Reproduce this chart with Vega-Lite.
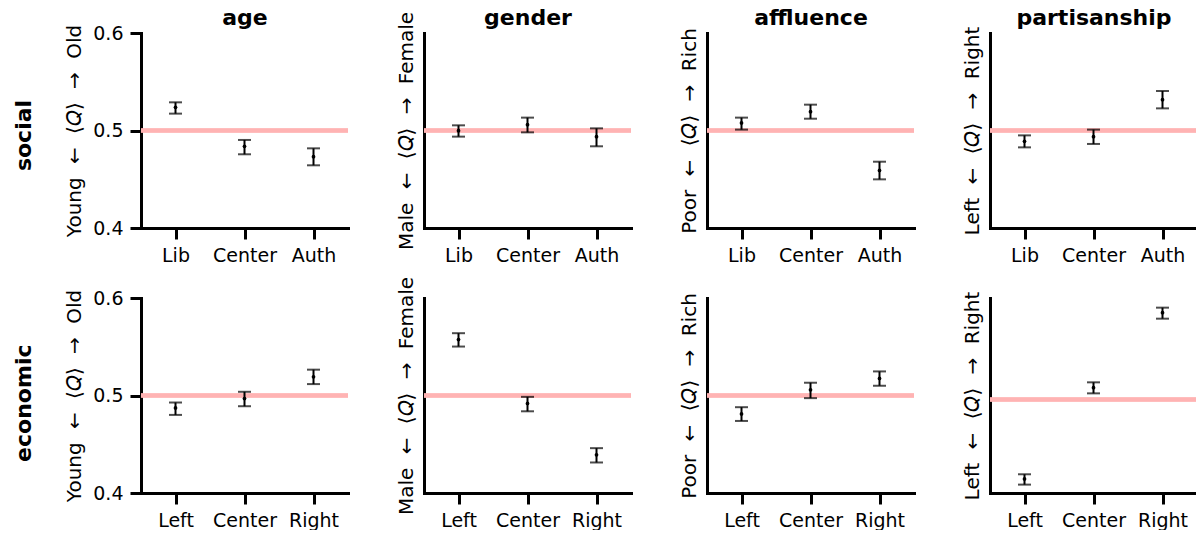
{
  "$schema": "https://vega.github.io/schema/vega-lite/v6.json",
  "padding": {"left": 12, "top": 6, "right": 0, "bottom": 0},
  "background": "white",
  "spacing": 11,
  "config": {
    "font": "DejaVu Sans",
    "view": {"stroke": null},
    "axis": {
      "domainColor": "black", "domainWidth": 3, "domainCap": "square",
      "tickColor": "black", "tickWidth": 3, "tickSize": 11,
      "labelFontSize": 19, "labelColor": "black", "labelPadding": 7, "labelFont": "DejaVu Sans",
      "titleFontSize": 20, "titleFontWeight": "normal", "titleColor": "black", "titleFont": "DejaVu Sans",
      "grid": false
    },
    "title": {"fontSize": 22, "fontWeight": "bold", "color": "black", "offset": 8, "font": "DejaVu Sans"}
  },
  "data": {"values": [
    {"axis": "social", "attr": "age", "grp": "Lib", "mean": 0.5238, "lo": 0.5173, "hi": 0.5289},
    {"axis": "social", "attr": "age", "grp": "Center", "mean": 0.4838, "lo": 0.4756, "hi": 0.4903},
    {"axis": "social", "attr": "age", "grp": "Auth", "mean": 0.4732, "lo": 0.4643, "hi": 0.4817},
    {"axis": "social", "attr": "gender", "grp": "Lib", "mean": 0.4998, "lo": 0.4937, "hi": 0.5053},
    {"axis": "social", "attr": "gender", "grp": "Center", "mean": 0.506, "lo": 0.4981, "hi": 0.5132},
    {"axis": "social", "attr": "gender", "grp": "Auth", "mean": 0.4937, "lo": 0.4838, "hi": 0.5022},
    {"axis": "social", "attr": "affluence", "grp": "Lib", "mean": 0.5077, "lo": 0.5009, "hi": 0.5132},
    {"axis": "social", "attr": "affluence", "grp": "Center", "mean": 0.5193, "lo": 0.5121, "hi": 0.5265},
    {"axis": "social", "attr": "affluence", "grp": "Auth", "mean": 0.4591, "lo": 0.4499, "hi": 0.468},
    {"axis": "social", "attr": "partisanship", "grp": "Lib", "mean": 0.4889, "lo": 0.4827, "hi": 0.495},
    {"axis": "social", "attr": "partisanship", "grp": "Center", "mean": 0.4937, "lo": 0.4862, "hi": 0.5009},
    {"axis": "social", "attr": "partisanship", "grp": "Auth", "mean": 0.5316, "lo": 0.5227, "hi": 0.5405},
    {"axis": "economic", "attr": "age", "grp": "Left", "mean": 0.4873, "lo": 0.4801, "hi": 0.4928},
    {"axis": "economic", "attr": "age", "grp": "Center", "mean": 0.4969, "lo": 0.489, "hi": 0.5038},
    {"axis": "economic", "attr": "age", "grp": "Right", "mean": 0.5192, "lo": 0.5117, "hi": 0.5265},
    {"axis": "economic", "attr": "gender", "grp": "Left", "mean": 0.5574, "lo": 0.5502, "hi": 0.5639},
    {"axis": "economic", "attr": "gender", "grp": "Center", "mean": 0.4918, "lo": 0.4838, "hi": 0.4986},
    {"axis": "economic", "attr": "gender", "grp": "Right", "mean": 0.4392, "lo": 0.4313, "hi": 0.446},
    {"axis": "economic", "attr": "affluence", "grp": "Left", "mean": 0.4811, "lo": 0.4739, "hi": 0.488},
    {"axis": "economic", "attr": "affluence", "grp": "Center", "mean": 0.5058, "lo": 0.4973, "hi": 0.5131},
    {"axis": "economic", "attr": "affluence", "grp": "Right", "mean": 0.5175, "lo": 0.51, "hi": 0.5247},
    {"axis": "economic", "attr": "partisanship", "grp": "Left", "mean": 0.4184, "lo": 0.4126, "hi": 0.4232},
    {"axis": "economic", "attr": "partisanship", "grp": "Center", "mean": 0.512, "lo": 0.5062, "hi": 0.5175},
    {"axis": "economic", "attr": "partisanship", "grp": "Right", "mean": 0.589, "lo": 0.5828, "hi": 0.5941}
  ]},
  "vconcat": [
    {
      "title": {"text": "social", "orient": "left", "anchor": "middle", "offset": 29},
      "bounds": "flush",
      "spacing": 76,
      "hconcat": [
        {
          "width": 207, "height": 195,
          "transform": [{"filter": "datum.axis === 'social' && datum.attr === 'age'"}],
          "resolve": {"axis": {"x": "independent"}},
          "layer": [
            {"mark": {"type": "rule", "color": "#ffb3b3", "strokeWidth": 4}, "encoding": {"y": {"datum": 0.5, "type": "quantitative", "scale": {"domain": [0.4, 0.6], "nice": false, "zero": false}, "axis": {"title": "Young\u2002\u2006←\u2002\u2006⟨𝑄⟩\u2002\u2006→\u2002\u2006Old", "values": [0.4, 0.5, 0.6], "format": ".1f", "titlePadding": 8}}}},
            {"mark": {"type": "rule", "color": "black", "strokeWidth": 2}, "encoding": {"x": {"field": "grp", "type": "nominal", "sort": ["Lib", "Center", "Auth"], "scale": {"type": "point", "padding": 0.5}, "axis": {"title": null, "labelAngle": 0}}, "y": {"field": "lo", "type": "quantitative", "scale": {"domain": [0.4, 0.6], "nice": false, "zero": false}, "axis": {"title": "Young\u2002\u2006←\u2002\u2006⟨𝑄⟩\u2002\u2006→\u2002\u2006Old", "values": [0.4, 0.5, 0.6], "format": ".1f", "titlePadding": 8}}, "y2": {"field": "hi"}}},
            {"mark": {"type": "tick", "color": "black", "thickness": 2, "size": 13, "orient": "horizontal"}, "encoding": {"x": {"field": "grp", "type": "nominal", "sort": ["Lib", "Center", "Auth"], "scale": {"type": "point", "padding": 0.5}, "axis": null}, "y": {"field": "lo", "type": "quantitative", "scale": {"domain": [0.4, 0.6], "nice": false, "zero": false}, "axis": {"title": "Young\u2002\u2006←\u2002\u2006⟨𝑄⟩\u2002\u2006→\u2002\u2006Old", "values": [0.4, 0.5, 0.6], "format": ".1f", "titlePadding": 8}}}},
            {"mark": {"type": "tick", "color": "black", "thickness": 2, "size": 13, "orient": "horizontal"}, "encoding": {"x": {"field": "grp", "type": "nominal", "sort": ["Lib", "Center", "Auth"], "scale": {"type": "point", "padding": 0.5}, "axis": null}, "y": {"field": "hi", "type": "quantitative", "scale": {"domain": [0.4, 0.6], "nice": false, "zero": false}, "axis": {"title": "Young\u2002\u2006←\u2002\u2006⟨𝑄⟩\u2002\u2006→\u2002\u2006Old", "values": [0.4, 0.5, 0.6], "format": ".1f", "titlePadding": 8}}}},
            {"mark": {"type": "point", "filled": true, "color": "black", "size": 14, "opacity": 1}, "encoding": {"x": {"field": "grp", "type": "nominal", "sort": ["Lib", "Center", "Auth"], "scale": {"type": "point", "padding": 0.5}, "axis": {"orient": "top", "title": "age", "domain": false, "ticks": false, "labels": false, "titleFontSize": 22, "titleFontWeight": "bold", "titlePadding": 4}}, "y": {"field": "mean", "type": "quantitative", "scale": {"domain": [0.4, 0.6], "nice": false, "zero": false}, "axis": {"title": "Young\u2002\u2006←\u2002\u2006⟨𝑄⟩\u2002\u2006→\u2002\u2006Old", "values": [0.4, 0.5, 0.6], "format": ".1f", "titlePadding": 8}}}}
          ]
        },
        {
          "width": 207, "height": 195,
          "transform": [{"filter": "datum.axis === 'social' && datum.attr === 'gender'"}],
          "resolve": {"axis": {"x": "independent"}},
          "layer": [
            {"mark": {"type": "rule", "color": "#ffb3b3", "strokeWidth": 4}, "encoding": {"y": {"datum": 0.5, "type": "quantitative", "scale": {"domain": [0.4, 0.6], "nice": false, "zero": false}, "axis": {"title": "Male\u2002\u2006←\u2002\u2006⟨𝑄⟩\u2002\u2006→\u2002\u2006Female", "ticks": false, "labels": false, "titlePadding": 8}}}},
            {"mark": {"type": "rule", "color": "black", "strokeWidth": 2}, "encoding": {"x": {"field": "grp", "type": "nominal", "sort": ["Lib", "Center", "Auth"], "scale": {"type": "point", "padding": 0.5}, "axis": {"title": null, "labelAngle": 0}}, "y": {"field": "lo", "type": "quantitative", "scale": {"domain": [0.4, 0.6], "nice": false, "zero": false}, "axis": {"title": "Male\u2002\u2006←\u2002\u2006⟨𝑄⟩\u2002\u2006→\u2002\u2006Female", "ticks": false, "labels": false, "titlePadding": 8}}, "y2": {"field": "hi"}}},
            {"mark": {"type": "tick", "color": "black", "thickness": 2, "size": 13, "orient": "horizontal"}, "encoding": {"x": {"field": "grp", "type": "nominal", "sort": ["Lib", "Center", "Auth"], "scale": {"type": "point", "padding": 0.5}, "axis": null}, "y": {"field": "lo", "type": "quantitative", "scale": {"domain": [0.4, 0.6], "nice": false, "zero": false}, "axis": {"title": "Male\u2002\u2006←\u2002\u2006⟨𝑄⟩\u2002\u2006→\u2002\u2006Female", "ticks": false, "labels": false, "titlePadding": 8}}}},
            {"mark": {"type": "tick", "color": "black", "thickness": 2, "size": 13, "orient": "horizontal"}, "encoding": {"x": {"field": "grp", "type": "nominal", "sort": ["Lib", "Center", "Auth"], "scale": {"type": "point", "padding": 0.5}, "axis": null}, "y": {"field": "hi", "type": "quantitative", "scale": {"domain": [0.4, 0.6], "nice": false, "zero": false}, "axis": {"title": "Male\u2002\u2006←\u2002\u2006⟨𝑄⟩\u2002\u2006→\u2002\u2006Female", "ticks": false, "labels": false, "titlePadding": 8}}}},
            {"mark": {"type": "point", "filled": true, "color": "black", "size": 14, "opacity": 1}, "encoding": {"x": {"field": "grp", "type": "nominal", "sort": ["Lib", "Center", "Auth"], "scale": {"type": "point", "padding": 0.5}, "axis": {"orient": "top", "title": "gender", "domain": false, "ticks": false, "labels": false, "titleFontSize": 22, "titleFontWeight": "bold", "titlePadding": 4}}, "y": {"field": "mean", "type": "quantitative", "scale": {"domain": [0.4, 0.6], "nice": false, "zero": false}, "axis": {"title": "Male\u2002\u2006←\u2002\u2006⟨𝑄⟩\u2002\u2006→\u2002\u2006Female", "ticks": false, "labels": false, "titlePadding": 8}}}}
          ]
        },
        {
          "width": 207, "height": 195,
          "transform": [{"filter": "datum.axis === 'social' && datum.attr === 'affluence'"}],
          "resolve": {"axis": {"x": "independent"}},
          "layer": [
            {"mark": {"type": "rule", "color": "#ffb3b3", "strokeWidth": 4}, "encoding": {"y": {"datum": 0.5, "type": "quantitative", "scale": {"domain": [0.4, 0.6], "nice": false, "zero": false}, "axis": {"title": "Poor\u2002\u2006←\u2002\u2006⟨𝑄⟩\u2002\u2006→\u2002\u2006Rich", "ticks": false, "labels": false, "titlePadding": 8}}}},
            {"mark": {"type": "rule", "color": "black", "strokeWidth": 2}, "encoding": {"x": {"field": "grp", "type": "nominal", "sort": ["Lib", "Center", "Auth"], "scale": {"type": "point", "padding": 0.5}, "axis": {"title": null, "labelAngle": 0}}, "y": {"field": "lo", "type": "quantitative", "scale": {"domain": [0.4, 0.6], "nice": false, "zero": false}, "axis": {"title": "Poor\u2002\u2006←\u2002\u2006⟨𝑄⟩\u2002\u2006→\u2002\u2006Rich", "ticks": false, "labels": false, "titlePadding": 8}}, "y2": {"field": "hi"}}},
            {"mark": {"type": "tick", "color": "black", "thickness": 2, "size": 13, "orient": "horizontal"}, "encoding": {"x": {"field": "grp", "type": "nominal", "sort": ["Lib", "Center", "Auth"], "scale": {"type": "point", "padding": 0.5}, "axis": null}, "y": {"field": "lo", "type": "quantitative", "scale": {"domain": [0.4, 0.6], "nice": false, "zero": false}, "axis": {"title": "Poor\u2002\u2006←\u2002\u2006⟨𝑄⟩\u2002\u2006→\u2002\u2006Rich", "ticks": false, "labels": false, "titlePadding": 8}}}},
            {"mark": {"type": "tick", "color": "black", "thickness": 2, "size": 13, "orient": "horizontal"}, "encoding": {"x": {"field": "grp", "type": "nominal", "sort": ["Lib", "Center", "Auth"], "scale": {"type": "point", "padding": 0.5}, "axis": null}, "y": {"field": "hi", "type": "quantitative", "scale": {"domain": [0.4, 0.6], "nice": false, "zero": false}, "axis": {"title": "Poor\u2002\u2006←\u2002\u2006⟨𝑄⟩\u2002\u2006→\u2002\u2006Rich", "ticks": false, "labels": false, "titlePadding": 8}}}},
            {"mark": {"type": "point", "filled": true, "color": "black", "size": 14, "opacity": 1}, "encoding": {"x": {"field": "grp", "type": "nominal", "sort": ["Lib", "Center", "Auth"], "scale": {"type": "point", "padding": 0.5}, "axis": {"orient": "top", "title": "affluence", "domain": false, "ticks": false, "labels": false, "titleFontSize": 22, "titleFontWeight": "bold", "titlePadding": 4}}, "y": {"field": "mean", "type": "quantitative", "scale": {"domain": [0.4, 0.6], "nice": false, "zero": false}, "axis": {"title": "Poor\u2002\u2006←\u2002\u2006⟨𝑄⟩\u2002\u2006→\u2002\u2006Rich", "ticks": false, "labels": false, "titlePadding": 8}}}}
          ]
        },
        {
          "width": 207, "height": 195,
          "transform": [{"filter": "datum.axis === 'social' && datum.attr === 'partisanship'"}],
          "resolve": {"axis": {"x": "independent"}},
          "layer": [
            {"mark": {"type": "rule", "color": "#ffb3b3", "strokeWidth": 4}, "encoding": {"y": {"datum": 0.5, "type": "quantitative", "scale": {"domain": [0.4, 0.6], "nice": false, "zero": false}, "axis": {"title": "Left\u2002\u2006←\u2002\u2006⟨𝑄⟩\u2002\u2006→\u2002\u2006Right", "ticks": false, "labels": false, "titlePadding": 8}}}},
            {"mark": {"type": "rule", "color": "black", "strokeWidth": 2}, "encoding": {"x": {"field": "grp", "type": "nominal", "sort": ["Lib", "Center", "Auth"], "scale": {"type": "point", "padding": 0.5}, "axis": {"title": null, "labelAngle": 0}}, "y": {"field": "lo", "type": "quantitative", "scale": {"domain": [0.4, 0.6], "nice": false, "zero": false}, "axis": {"title": "Left\u2002\u2006←\u2002\u2006⟨𝑄⟩\u2002\u2006→\u2002\u2006Right", "ticks": false, "labels": false, "titlePadding": 8}}, "y2": {"field": "hi"}}},
            {"mark": {"type": "tick", "color": "black", "thickness": 2, "size": 13, "orient": "horizontal"}, "encoding": {"x": {"field": "grp", "type": "nominal", "sort": ["Lib", "Center", "Auth"], "scale": {"type": "point", "padding": 0.5}, "axis": null}, "y": {"field": "lo", "type": "quantitative", "scale": {"domain": [0.4, 0.6], "nice": false, "zero": false}, "axis": {"title": "Left\u2002\u2006←\u2002\u2006⟨𝑄⟩\u2002\u2006→\u2002\u2006Right", "ticks": false, "labels": false, "titlePadding": 8}}}},
            {"mark": {"type": "tick", "color": "black", "thickness": 2, "size": 13, "orient": "horizontal"}, "encoding": {"x": {"field": "grp", "type": "nominal", "sort": ["Lib", "Center", "Auth"], "scale": {"type": "point", "padding": 0.5}, "axis": null}, "y": {"field": "hi", "type": "quantitative", "scale": {"domain": [0.4, 0.6], "nice": false, "zero": false}, "axis": {"title": "Left\u2002\u2006←\u2002\u2006⟨𝑄⟩\u2002\u2006→\u2002\u2006Right", "ticks": false, "labels": false, "titlePadding": 8}}}},
            {"mark": {"type": "point", "filled": true, "color": "black", "size": 14, "opacity": 1}, "encoding": {"x": {"field": "grp", "type": "nominal", "sort": ["Lib", "Center", "Auth"], "scale": {"type": "point", "padding": 0.5}, "axis": {"orient": "top", "title": "partisanship", "domain": false, "ticks": false, "labels": false, "titleFontSize": 22, "titleFontWeight": "bold", "titlePadding": 4}}, "y": {"field": "mean", "type": "quantitative", "scale": {"domain": [0.4, 0.6], "nice": false, "zero": false}, "axis": {"title": "Left\u2002\u2006←\u2002\u2006⟨𝑄⟩\u2002\u2006→\u2002\u2006Right", "ticks": false, "labels": false, "titlePadding": 8}}}}
          ]
        }
      ]
    },
    {
      "title": {"text": "economic", "orient": "left", "anchor": "middle", "offset": 29},
      "bounds": "flush",
      "spacing": 76,
      "hconcat": [
        {
          "width": 207, "height": 195,
          "transform": [{"filter": "datum.axis === 'economic' && datum.attr === 'age'"}],
          "resolve": {"axis": {"x": "independent"}},
          "layer": [
            {"mark": {"type": "rule", "color": "#ffb3b3", "strokeWidth": 4}, "encoding": {"y": {"datum": 0.5, "type": "quantitative", "scale": {"domain": [0.4, 0.6], "nice": false, "zero": false}, "axis": {"title": "Young\u2002\u2006←\u2002\u2006⟨𝑄⟩\u2002\u2006→\u2002\u2006Old", "values": [0.4, 0.5, 0.6], "format": ".1f", "titlePadding": 8}}}},
            {"mark": {"type": "rule", "color": "black", "strokeWidth": 2}, "encoding": {"x": {"field": "grp", "type": "nominal", "sort": ["Left", "Center", "Right"], "scale": {"type": "point", "padding": 0.5}, "axis": {"title": null, "labelAngle": 0}}, "y": {"field": "lo", "type": "quantitative", "scale": {"domain": [0.4, 0.6], "nice": false, "zero": false}, "axis": {"title": "Young\u2002\u2006←\u2002\u2006⟨𝑄⟩\u2002\u2006→\u2002\u2006Old", "values": [0.4, 0.5, 0.6], "format": ".1f", "titlePadding": 8}}, "y2": {"field": "hi"}}},
            {"mark": {"type": "tick", "color": "black", "thickness": 2, "size": 13, "orient": "horizontal"}, "encoding": {"x": {"field": "grp", "type": "nominal", "sort": ["Left", "Center", "Right"], "scale": {"type": "point", "padding": 0.5}, "axis": null}, "y": {"field": "lo", "type": "quantitative", "scale": {"domain": [0.4, 0.6], "nice": false, "zero": false}, "axis": {"title": "Young\u2002\u2006←\u2002\u2006⟨𝑄⟩\u2002\u2006→\u2002\u2006Old", "values": [0.4, 0.5, 0.6], "format": ".1f", "titlePadding": 8}}}},
            {"mark": {"type": "tick", "color": "black", "thickness": 2, "size": 13, "orient": "horizontal"}, "encoding": {"x": {"field": "grp", "type": "nominal", "sort": ["Left", "Center", "Right"], "scale": {"type": "point", "padding": 0.5}, "axis": null}, "y": {"field": "hi", "type": "quantitative", "scale": {"domain": [0.4, 0.6], "nice": false, "zero": false}, "axis": {"title": "Young\u2002\u2006←\u2002\u2006⟨𝑄⟩\u2002\u2006→\u2002\u2006Old", "values": [0.4, 0.5, 0.6], "format": ".1f", "titlePadding": 8}}}},
            {"mark": {"type": "point", "filled": true, "color": "black", "size": 14, "opacity": 1}, "encoding": {"x": {"field": "grp", "type": "nominal", "sort": ["Left", "Center", "Right"], "scale": {"type": "point", "padding": 0.5}, "axis": null}, "y": {"field": "mean", "type": "quantitative", "scale": {"domain": [0.4, 0.6], "nice": false, "zero": false}, "axis": {"title": "Young\u2002\u2006←\u2002\u2006⟨𝑄⟩\u2002\u2006→\u2002\u2006Old", "values": [0.4, 0.5, 0.6], "format": ".1f", "titlePadding": 8}}}}
          ]
        },
        {
          "width": 207, "height": 195,
          "transform": [{"filter": "datum.axis === 'economic' && datum.attr === 'gender'"}],
          "resolve": {"axis": {"x": "independent"}},
          "layer": [
            {"mark": {"type": "rule", "color": "#ffb3b3", "strokeWidth": 4}, "encoding": {"y": {"datum": 0.5, "type": "quantitative", "scale": {"domain": [0.4, 0.6], "nice": false, "zero": false}, "axis": {"title": "Male\u2002\u2006←\u2002\u2006⟨𝑄⟩\u2002\u2006→\u2002\u2006Female", "ticks": false, "labels": false, "titlePadding": 8}}}},
            {"mark": {"type": "rule", "color": "black", "strokeWidth": 2}, "encoding": {"x": {"field": "grp", "type": "nominal", "sort": ["Left", "Center", "Right"], "scale": {"type": "point", "padding": 0.5}, "axis": {"title": null, "labelAngle": 0}}, "y": {"field": "lo", "type": "quantitative", "scale": {"domain": [0.4, 0.6], "nice": false, "zero": false}, "axis": {"title": "Male\u2002\u2006←\u2002\u2006⟨𝑄⟩\u2002\u2006→\u2002\u2006Female", "ticks": false, "labels": false, "titlePadding": 8}}, "y2": {"field": "hi"}}},
            {"mark": {"type": "tick", "color": "black", "thickness": 2, "size": 13, "orient": "horizontal"}, "encoding": {"x": {"field": "grp", "type": "nominal", "sort": ["Left", "Center", "Right"], "scale": {"type": "point", "padding": 0.5}, "axis": null}, "y": {"field": "lo", "type": "quantitative", "scale": {"domain": [0.4, 0.6], "nice": false, "zero": false}, "axis": {"title": "Male\u2002\u2006←\u2002\u2006⟨𝑄⟩\u2002\u2006→\u2002\u2006Female", "ticks": false, "labels": false, "titlePadding": 8}}}},
            {"mark": {"type": "tick", "color": "black", "thickness": 2, "size": 13, "orient": "horizontal"}, "encoding": {"x": {"field": "grp", "type": "nominal", "sort": ["Left", "Center", "Right"], "scale": {"type": "point", "padding": 0.5}, "axis": null}, "y": {"field": "hi", "type": "quantitative", "scale": {"domain": [0.4, 0.6], "nice": false, "zero": false}, "axis": {"title": "Male\u2002\u2006←\u2002\u2006⟨𝑄⟩\u2002\u2006→\u2002\u2006Female", "ticks": false, "labels": false, "titlePadding": 8}}}},
            {"mark": {"type": "point", "filled": true, "color": "black", "size": 14, "opacity": 1}, "encoding": {"x": {"field": "grp", "type": "nominal", "sort": ["Left", "Center", "Right"], "scale": {"type": "point", "padding": 0.5}, "axis": null}, "y": {"field": "mean", "type": "quantitative", "scale": {"domain": [0.4, 0.6], "nice": false, "zero": false}, "axis": {"title": "Male\u2002\u2006←\u2002\u2006⟨𝑄⟩\u2002\u2006→\u2002\u2006Female", "ticks": false, "labels": false, "titlePadding": 8}}}}
          ]
        },
        {
          "width": 207, "height": 195,
          "transform": [{"filter": "datum.axis === 'economic' && datum.attr === 'affluence'"}],
          "resolve": {"axis": {"x": "independent"}},
          "layer": [
            {"mark": {"type": "rule", "color": "#ffb3b3", "strokeWidth": 4}, "encoding": {"y": {"datum": 0.5, "type": "quantitative", "scale": {"domain": [0.4, 0.6], "nice": false, "zero": false}, "axis": {"title": "Poor\u2002\u2006←\u2002\u2006⟨𝑄⟩\u2002\u2006→\u2002\u2006Rich", "ticks": false, "labels": false, "titlePadding": 8}}}},
            {"mark": {"type": "rule", "color": "black", "strokeWidth": 2}, "encoding": {"x": {"field": "grp", "type": "nominal", "sort": ["Left", "Center", "Right"], "scale": {"type": "point", "padding": 0.5}, "axis": {"title": null, "labelAngle": 0}}, "y": {"field": "lo", "type": "quantitative", "scale": {"domain": [0.4, 0.6], "nice": false, "zero": false}, "axis": {"title": "Poor\u2002\u2006←\u2002\u2006⟨𝑄⟩\u2002\u2006→\u2002\u2006Rich", "ticks": false, "labels": false, "titlePadding": 8}}, "y2": {"field": "hi"}}},
            {"mark": {"type": "tick", "color": "black", "thickness": 2, "size": 13, "orient": "horizontal"}, "encoding": {"x": {"field": "grp", "type": "nominal", "sort": ["Left", "Center", "Right"], "scale": {"type": "point", "padding": 0.5}, "axis": null}, "y": {"field": "lo", "type": "quantitative", "scale": {"domain": [0.4, 0.6], "nice": false, "zero": false}, "axis": {"title": "Poor\u2002\u2006←\u2002\u2006⟨𝑄⟩\u2002\u2006→\u2002\u2006Rich", "ticks": false, "labels": false, "titlePadding": 8}}}},
            {"mark": {"type": "tick", "color": "black", "thickness": 2, "size": 13, "orient": "horizontal"}, "encoding": {"x": {"field": "grp", "type": "nominal", "sort": ["Left", "Center", "Right"], "scale": {"type": "point", "padding": 0.5}, "axis": null}, "y": {"field": "hi", "type": "quantitative", "scale": {"domain": [0.4, 0.6], "nice": false, "zero": false}, "axis": {"title": "Poor\u2002\u2006←\u2002\u2006⟨𝑄⟩\u2002\u2006→\u2002\u2006Rich", "ticks": false, "labels": false, "titlePadding": 8}}}},
            {"mark": {"type": "point", "filled": true, "color": "black", "size": 14, "opacity": 1}, "encoding": {"x": {"field": "grp", "type": "nominal", "sort": ["Left", "Center", "Right"], "scale": {"type": "point", "padding": 0.5}, "axis": null}, "y": {"field": "mean", "type": "quantitative", "scale": {"domain": [0.4, 0.6], "nice": false, "zero": false}, "axis": {"title": "Poor\u2002\u2006←\u2002\u2006⟨𝑄⟩\u2002\u2006→\u2002\u2006Rich", "ticks": false, "labels": false, "titlePadding": 8}}}}
          ]
        },
        {
          "width": 207, "height": 195,
          "transform": [{"filter": "datum.axis === 'economic' && datum.attr === 'partisanship'"}],
          "resolve": {"axis": {"x": "independent"}},
          "layer": [
            {"mark": {"type": "rule", "color": "#ffb3b3", "strokeWidth": 4}, "encoding": {"y": {"datum": 0.5, "type": "quantitative", "scale": {"domain": [0.404, 0.604], "nice": false, "zero": false}, "axis": {"title": "Left\u2002\u2006←\u2002\u2006⟨𝑄⟩\u2002\u2006→\u2002\u2006Right", "ticks": false, "labels": false, "titlePadding": 8}}}},
            {"mark": {"type": "rule", "color": "black", "strokeWidth": 2}, "encoding": {"x": {"field": "grp", "type": "nominal", "sort": ["Left", "Center", "Right"], "scale": {"type": "point", "padding": 0.5}, "axis": {"title": null, "labelAngle": 0}}, "y": {"field": "lo", "type": "quantitative", "scale": {"domain": [0.404, 0.604], "nice": false, "zero": false}, "axis": {"title": "Left\u2002\u2006←\u2002\u2006⟨𝑄⟩\u2002\u2006→\u2002\u2006Right", "ticks": false, "labels": false, "titlePadding": 8}}, "y2": {"field": "hi"}}},
            {"mark": {"type": "tick", "color": "black", "thickness": 2, "size": 13, "orient": "horizontal"}, "encoding": {"x": {"field": "grp", "type": "nominal", "sort": ["Left", "Center", "Right"], "scale": {"type": "point", "padding": 0.5}, "axis": null}, "y": {"field": "lo", "type": "quantitative", "scale": {"domain": [0.404, 0.604], "nice": false, "zero": false}, "axis": {"title": "Left\u2002\u2006←\u2002\u2006⟨𝑄⟩\u2002\u2006→\u2002\u2006Right", "ticks": false, "labels": false, "titlePadding": 8}}}},
            {"mark": {"type": "tick", "color": "black", "thickness": 2, "size": 13, "orient": "horizontal"}, "encoding": {"x": {"field": "grp", "type": "nominal", "sort": ["Left", "Center", "Right"], "scale": {"type": "point", "padding": 0.5}, "axis": null}, "y": {"field": "hi", "type": "quantitative", "scale": {"domain": [0.404, 0.604], "nice": false, "zero": false}, "axis": {"title": "Left\u2002\u2006←\u2002\u2006⟨𝑄⟩\u2002\u2006→\u2002\u2006Right", "ticks": false, "labels": false, "titlePadding": 8}}}},
            {"mark": {"type": "point", "filled": true, "color": "black", "size": 14, "opacity": 1}, "encoding": {"x": {"field": "grp", "type": "nominal", "sort": ["Left", "Center", "Right"], "scale": {"type": "point", "padding": 0.5}, "axis": null}, "y": {"field": "mean", "type": "quantitative", "scale": {"domain": [0.404, 0.604], "nice": false, "zero": false}, "axis": {"title": "Left\u2002\u2006←\u2002\u2006⟨𝑄⟩\u2002\u2006→\u2002\u2006Right", "ticks": false, "labels": false, "titlePadding": 8}}}}
          ]
        }
      ]
    }
  ]
}
